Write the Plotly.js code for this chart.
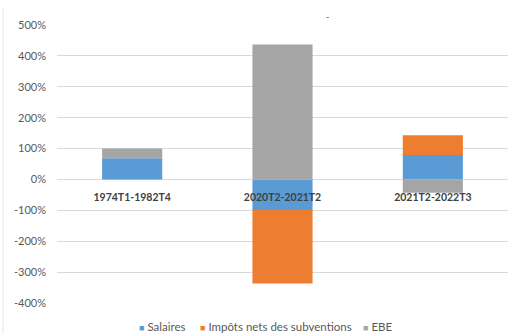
<!DOCTYPE html>
<html>
<head>
<meta charset="utf-8">
<script src="https://cdn.plot.ly/plotly-3.0.1.min.js"></script>
<style>html,body{margin:0;padding:0;background:#fff;}#chart{width:508px;height:334px;}</style>
</head>
<body>
<div id="chart"></div>
<script>
const categories = ['1974T1-1982T4', '2020T2-2021T2', '2021T2-2022T3'];
const salaires = [69, -99, 79];
const impots = [0, -238, 64];
const ebe = [31, 437, -43];
const seriesNames = ['Salaires', 'Impôts nets des subventions', 'EBE'];
const yTicks = [-400, -300, -200, -100, 0, 100, 200, 300, 400, 500];

const colors = ['#5B9BD5', '#ED7D31', '#A5A5A5'];
const font = 'Lato, "Open Sans", sans-serif';

const traces = [salaires, impots, ebe].map((vals, i) => ({
  type: 'bar',
  x: categories,
  y: vals,
  name: seriesNames[i],
  showlegend: false,
  marker: {color: colors[i], line: {width: 0}},
  hoverinfo: 'skip'
}));

// plot area: x 57..508, y 25..303
const px = p => (p - 57) / 451;
const py = p => (303 - p) / 278;
const legendX = [137, 198, 361];
const legendAnn = seriesNames.map((n, i) => ({
  xref: 'paper', yref: 'paper', x: px(legendX[i]), y: py(326),
  xanchor: 'left', yanchor: 'middle', showarrow: false,
  text: '<span style="color:' + colors[i] + ';font-size:9px">■</span> ' + n,
  font: {size: 11.5, color: '#595959', family: font}
}));

const layout = {
  width: 508, height: 334,
  margin: {l: 57, r: 0, t: 25, b: 31, autoexpand: false},
  paper_bgcolor: '#fff', plot_bgcolor: '#fff',
  barmode: 'relative',
  bargap: 0.6,
  showlegend: false,
  font: {family: font, color: '#595959', size: 11},
  xaxis: {
    anchor: 'free', position: 400/900,
    showgrid: false, zeroline: false, showline: false,
    ticks: '', tickfont: {size: 10.5, color: '#404040', family: font, weight: 'bold'},
    ticklabelstandoff: 10,
    fixedrange: true
  },
  yaxis: {
    range: [-400, 500], tickvals: yTicks,
    ticktext: yTicks.map(v => v + '%'),
    showgrid: true, gridcolor: '#D9D9D9', gridwidth: 1,
    zeroline: true, zerolinecolor: '#D9D9D9', zerolinewidth: 1,
    showline: false, ticks: '',
    tickfont: {size: 11, color: '#595959'},
    ticklabelstandoff: 10,
    fixedrange: true
  },
  shapes: [{
    type: 'line', xref: 'paper', yref: 'paper',
    x0: px(3), x1: px(3), y0: py(8), y1: py(334),
    line: {color: '#E8E8E8', width: 1}
  }],
  annotations: [{
    text: '-', xref: 'paper', yref: 'paper', x: px(327), y: py(9),
    showarrow: false, font: {size: 9, color: '#555'}
  }].concat(legendAnn)
};

Plotly.newPlot('chart', traces, layout, {displayModeBar: false, staticPlot: true});
</script>
</body>
</html>
